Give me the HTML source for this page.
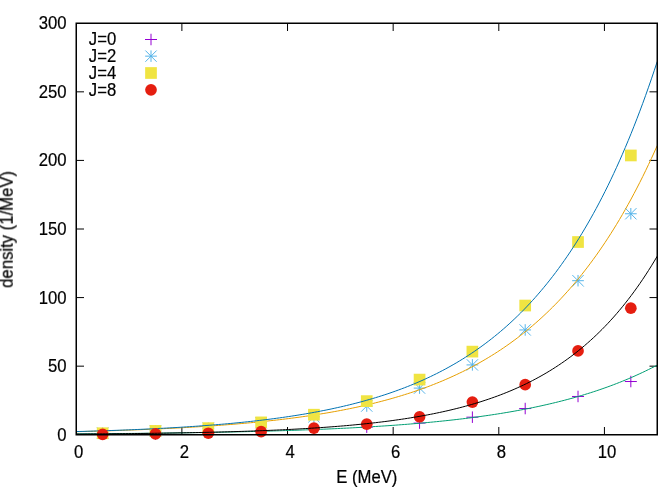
<!DOCTYPE html>
<html><head><meta charset="utf-8"><title>plot</title>
<style>html,body{margin:0;padding:0;background:#fff;overflow:hidden;width:670px;height:490px}svg{display:block}text{font-family:"Liberation Sans",sans-serif;font-size:16.7px;fill:#000;stroke:#000;stroke-width:0.2}</style></head>
<body>
<svg width="670" height="490" viewBox="0 0 670 490">
<rect width="670" height="490" fill="#fff"/>
<path d="M76.25 366.17h7.75M657.25 366.17h-7.75M76.25 297.58h7.75M657.25 297.58h-7.75M76.25 229.00h7.75M657.25 229.00h-7.75M76.25 160.42h7.75M657.25 160.42h-7.75M76.25 91.83h7.75M657.25 91.83h-7.75M181.89 434.75v-7.75M181.89 23.25v7.75M287.52 434.75v-7.75M287.52 23.25v7.75M393.16 434.75v-7.75M393.16 23.25v7.75M498.80 434.75v-7.75M498.80 23.25v7.75M604.43 434.75v-7.75M604.43 23.25v7.75" stroke="#000" stroke-width="1" fill="none"/>
<g opacity="0.999">
<text transform="translate(66.60,440.70) scale(1,1.05)" text-anchor="end">0</text>
<text transform="translate(66.60,372.12) scale(1,1.05)" text-anchor="end">50</text>
<text transform="translate(66.60,303.53) scale(1,1.05)" text-anchor="end">100</text>
<text transform="translate(66.60,234.95) scale(1,1.05)" text-anchor="end">150</text>
<text transform="translate(66.60,166.37) scale(1,1.05)" text-anchor="end">200</text>
<text transform="translate(66.60,97.78) scale(1,1.05)" text-anchor="end">250</text>
<text transform="translate(66.60,29.20) scale(1,1.05)" text-anchor="end">300</text>
<text transform="translate(78.75,457.70) scale(1,1.05)" text-anchor="middle">0</text>
<text transform="translate(184.39,457.70) scale(1,1.05)" text-anchor="middle">2</text>
<text transform="translate(290.02,457.70) scale(1,1.05)" text-anchor="middle">4</text>
<text transform="translate(395.66,457.70) scale(1,1.05)" text-anchor="middle">6</text>
<text transform="translate(501.30,457.70) scale(1,1.05)" text-anchor="middle">8</text>
<text transform="translate(606.93,457.70) scale(1,1.05)" text-anchor="middle">10</text>
<text transform="translate(366.80,482.60) scale(1,1.05)" text-anchor="middle">E (MeV)</text>
<text transform="translate(12.50,229.40) rotate(-90) scale(1,1.05)" text-anchor="middle">density (1/MeV)</text>
<text transform="translate(88.80,45.20) scale(1,1.05)" text-anchor="start">J=0</text>
<text transform="translate(88.80,61.85) scale(1,1.05)" text-anchor="start">J=2</text>
<text transform="translate(88.80,78.70) scale(1,1.05)" text-anchor="start">J=4</text>
<text transform="translate(88.80,95.50) scale(1,1.05)" text-anchor="start">J=8</text>
</g>
<path d="M145.00 39.50H157.00M151.00 33.75V45.25" stroke="#9400D3" stroke-width="1" fill="none"/>
<path d="M96.66 434.19H108.66M102.66 428.44V439.94" stroke="#9400D3" stroke-width="1" fill="none"/>
<path d="M149.48 433.91H161.48M155.48 428.16V439.66" stroke="#9400D3" stroke-width="1" fill="none"/>
<path d="M202.30 432.54H214.30M208.30 426.79V438.29" stroke="#9400D3" stroke-width="1" fill="none"/>
<path d="M255.11 430.90H267.11M261.11 425.15V436.65" stroke="#9400D3" stroke-width="1" fill="none"/>
<path d="M307.93 429.11H319.93M313.93 423.36V434.86" stroke="#9400D3" stroke-width="1" fill="none"/>
<path d="M360.75 427.19H372.75M366.75 421.44V432.94" stroke="#9400D3" stroke-width="1" fill="none"/>
<path d="M413.57 423.08H425.57M419.57 417.33V428.83" stroke="#9400D3" stroke-width="1" fill="none"/>
<path d="M466.39 417.18H478.39M472.39 411.43V422.93" stroke="#9400D3" stroke-width="1" fill="none"/>
<path d="M519.20 408.54H531.20M525.20 402.79V414.29" stroke="#9400D3" stroke-width="1" fill="none"/>
<path d="M572.02 396.47H584.02M578.02 390.72V402.22" stroke="#9400D3" stroke-width="1" fill="none"/>
<path d="M624.84 381.52H636.84M630.84 375.77V387.27" stroke="#9400D3" stroke-width="1" fill="none"/>
<polyline points="76.25,433.89 79.16,433.88 82.06,433.86 84.97,433.84 87.87,433.82 90.78,433.80 93.68,433.77 96.59,433.75 99.49,433.73 102.39,433.71 105.30,433.68 108.20,433.66 111.11,433.64 114.01,433.61 116.92,433.59 119.82,433.56 122.73,433.53 125.63,433.51 128.54,433.48 131.44,433.45 134.35,433.42 137.25,433.39 140.16,433.36 143.06,433.33 145.97,433.30 148.88,433.27 151.78,433.23 154.69,433.20 157.59,433.17 160.50,433.13 163.40,433.10 166.31,433.06 169.21,433.02 172.12,432.98 175.02,432.94 177.93,432.90 180.83,432.86 183.74,432.82 186.64,432.78 189.55,432.73 192.45,432.69 195.36,432.64 198.26,432.60 201.17,432.55 204.07,432.50 206.98,432.45 209.88,432.40 212.78,432.34 215.69,432.29 218.59,432.24 221.50,432.18 224.41,432.12 227.31,432.07 230.22,432.01 233.12,431.94 236.02,431.88 238.93,431.82 241.84,431.75 244.74,431.69 247.65,431.62 250.55,431.55 253.45,431.48 256.36,431.40 259.26,431.33 262.17,431.25 265.08,431.18 267.98,431.10 270.88,431.02 273.79,430.93 276.69,430.85 279.60,430.76 282.50,430.67 285.41,430.58 288.31,430.49 291.22,430.39 294.12,430.30 297.03,430.20 299.94,430.10 302.84,429.99 305.75,429.89 308.65,429.78 311.56,429.67 314.46,429.56 317.37,429.44 320.27,429.32 323.17,429.20 326.08,429.08 328.99,428.95 331.89,428.82 334.80,428.69 337.70,428.56 340.60,428.42 343.51,428.28 346.42,428.13 349.32,427.99 352.22,427.84 355.13,427.68 358.03,427.52 360.94,427.36 363.85,427.20 366.75,427.03 369.65,426.86 372.56,426.68 375.47,426.50 378.37,426.32 381.28,426.13 384.18,425.94 387.08,425.75 389.99,425.55 392.90,425.34 395.80,425.13 398.70,424.92 401.61,424.70 404.51,424.48 407.42,424.25 410.33,424.01 413.23,423.77 416.13,423.53 419.04,423.28 421.94,423.03 424.85,422.77 427.76,422.50 430.66,422.23 433.56,421.95 436.47,421.66 439.38,421.37 442.28,421.07 445.19,420.77 448.09,420.46 450.99,420.14 453.90,419.82 456.81,419.48 459.71,419.14 462.62,418.80 465.52,418.44 468.43,418.08 471.33,417.71 474.24,417.33 477.14,416.94 480.05,416.55 482.95,416.14 485.85,415.73 488.76,415.30 491.67,414.87 494.57,414.43 497.47,413.98 500.38,413.52 503.29,413.04 506.19,412.56 509.10,412.07 512.00,411.56 514.90,411.05 517.81,410.52 520.71,409.98 523.62,409.43 526.53,408.87 529.43,408.29 532.34,407.70 535.24,407.10 538.14,406.49 541.05,405.86 543.95,405.21 546.86,404.56 549.76,403.89 552.67,403.20 555.58,402.50 558.48,401.78 561.38,401.05 564.29,400.30 567.19,399.53 570.10,398.75 573.00,397.95 575.91,397.13 578.82,396.29 581.72,395.43 584.62,394.56 587.53,393.67 590.43,392.75 593.34,391.82 596.25,390.86 599.15,389.89 602.06,388.89 604.96,387.87 607.86,386.83 610.77,385.76 613.68,384.67 616.58,383.56 619.49,382.42 622.39,381.25 625.29,380.06 628.20,378.85 631.11,377.60 634.01,376.33 636.92,375.03 639.82,373.70 642.72,372.35 645.63,370.96 648.53,369.54 651.44,368.09 654.35,366.61 657.25,365.09" fill="none" stroke="#009E73" stroke-width="1.0" stroke-linejoin="round"/>
<path d="M145.15 56.15H156.85M151.00 50.40V61.90M145.35 50.50L156.65 61.80M145.35 61.80L156.65 50.50" stroke="#56B4E9" stroke-width="1" fill="none"/>
<path d="M96.81 433.09H108.51M102.66 427.34V438.84M97.01 427.44L108.31 438.74M97.01 438.74L108.31 427.44" stroke="#56B4E9" stroke-width="1" fill="none"/>
<path d="M149.63 430.90H161.33M155.48 425.15V436.65M149.83 425.25L161.13 436.55M149.83 436.55L161.13 425.25" stroke="#56B4E9" stroke-width="1" fill="none"/>
<path d="M202.45 428.29H214.15M208.30 422.54V434.04M202.65 422.64L213.95 433.94M202.65 433.94L213.95 422.64" stroke="#56B4E9" stroke-width="1" fill="none"/>
<path d="M255.26 422.73H266.96M261.11 416.98V428.48M255.46 417.08L266.76 428.38M255.46 428.38L266.76 417.08" stroke="#56B4E9" stroke-width="1" fill="none"/>
<path d="M308.08 416.77H319.78M313.93 411.02V422.52M308.28 411.12L319.58 422.42M308.28 422.42L319.58 411.12" stroke="#56B4E9" stroke-width="1" fill="none"/>
<path d="M360.90 406.07H372.60M366.75 400.32V411.82M361.10 400.42L372.40 411.72M361.10 411.72L372.40 400.42" stroke="#56B4E9" stroke-width="1" fill="none"/>
<path d="M413.72 388.10H425.42M419.57 382.35V393.85M413.92 382.45L425.22 393.75M413.92 393.75L425.22 382.45" stroke="#56B4E9" stroke-width="1" fill="none"/>
<path d="M466.54 364.92H478.24M472.39 359.17V370.67M466.74 359.27L478.04 370.57M466.74 370.57L478.04 359.27" stroke="#56B4E9" stroke-width="1" fill="none"/>
<path d="M519.35 329.94H531.05M525.20 324.19V335.69M519.55 324.29L530.85 335.59M519.55 335.59L530.85 324.29" stroke="#56B4E9" stroke-width="1" fill="none"/>
<path d="M572.17 280.70H583.87M578.02 274.95V286.45M572.37 275.05L583.67 286.35M572.37 286.35L583.67 275.05" stroke="#56B4E9" stroke-width="1" fill="none"/>
<path d="M624.99 213.76H636.69M630.84 208.01V219.51M625.19 208.11L636.49 219.41M625.19 219.41L636.49 208.11" stroke="#56B4E9" stroke-width="1" fill="none"/>
<polyline points="76.25,431.68 79.16,431.61 82.06,431.54 84.97,431.46 87.87,431.39 90.78,431.31 93.68,431.23 96.59,431.15 99.49,431.07 102.39,430.98 105.30,430.90 108.20,430.81 111.11,430.72 114.01,430.62 116.92,430.53 119.82,430.43 122.73,430.33 125.63,430.23 128.54,430.13 131.44,430.02 134.35,429.91 137.25,429.80 140.16,429.69 143.06,429.57 145.97,429.45 148.88,429.33 151.78,429.20 154.69,429.08 157.59,428.95 160.50,428.81 163.40,428.68 166.31,428.54 169.21,428.39 172.12,428.25 175.02,428.10 177.93,427.95 180.83,427.79 183.74,427.63 186.64,427.47 189.55,427.30 192.45,427.13 195.36,426.95 198.26,426.77 201.17,426.59 204.07,426.40 206.98,426.21 209.88,426.01 212.78,425.81 215.69,425.61 218.59,425.40 221.50,425.18 224.41,424.96 227.31,424.74 230.22,424.51 233.12,424.27 236.02,424.03 238.93,423.78 241.84,423.53 244.74,423.28 247.65,423.01 250.55,422.74 253.45,422.47 256.36,422.18 259.26,421.89 262.17,421.60 265.08,421.30 267.98,420.99 270.88,420.67 273.79,420.35 276.69,420.02 279.60,419.68 282.50,419.33 285.41,418.98 288.31,418.61 291.22,418.24 294.12,417.86 297.03,417.48 299.94,417.08 302.84,416.67 305.75,416.26 308.65,415.83 311.56,415.40 314.46,414.95 317.37,414.50 320.27,414.03 323.17,413.55 326.08,413.07 328.99,412.57 331.89,412.06 334.80,411.54 337.70,411.00 340.60,410.46 343.51,409.90 346.42,409.33 349.32,408.74 352.22,408.15 355.13,407.54 358.03,406.91 360.94,406.27 363.85,405.62 366.75,404.95 369.65,404.26 372.56,403.56 375.47,402.84 378.37,402.11 381.28,401.36 384.18,400.59 387.08,399.81 389.99,399.00 392.90,398.18 395.80,397.34 398.70,396.48 401.61,395.60 404.51,394.70 407.42,393.78 410.33,392.84 413.23,391.88 416.13,390.89 419.04,389.88 421.94,388.85 424.85,387.80 427.76,386.72 430.66,385.61 433.56,384.48 436.47,383.33 439.38,382.15 442.28,380.94 445.19,379.70 448.09,378.43 450.99,377.14 453.90,375.81 456.81,374.46 459.71,373.07 462.62,371.66 465.52,370.21 468.43,368.72 471.33,367.21 474.24,365.65 477.14,364.06 480.05,362.44 482.95,360.78 485.85,359.08 488.76,357.34 491.67,355.56 494.57,353.74 497.47,351.88 500.38,349.97 503.29,348.02 506.19,346.03 509.10,343.99 512.00,341.90 514.90,339.77 517.81,337.59 520.71,335.35 523.62,333.07 526.53,330.73 529.43,328.34 532.34,325.89 535.24,323.39 538.14,320.83 541.05,318.21 543.95,315.53 546.86,312.79 549.76,309.99 552.67,307.12 555.58,304.19 558.48,301.19 561.38,298.12 564.29,294.98 567.19,291.76 570.10,288.48 573.00,285.11 575.91,281.68 578.82,278.16 581.72,274.56 584.62,270.87 587.53,267.11 590.43,263.25 593.34,259.31 596.25,255.28 599.15,251.15 602.06,246.93 604.96,242.62 607.86,238.20 610.77,233.68 613.68,229.06 616.58,224.33 619.49,219.50 622.39,214.55 625.29,209.49 628.20,204.31 631.11,199.01 634.01,193.59 636.92,188.05 639.82,182.38 642.72,176.58 645.63,170.64 648.53,164.57 651.44,158.36 654.35,152.01 657.25,145.51" fill="none" stroke="#E69F00" stroke-width="1.0" stroke-linejoin="round"/>
<rect x="145.15" y="67.15" width="11.70" height="11.70" fill="#F0E442"/>
<rect x="96.81" y="427.38" width="11.70" height="11.70" fill="#F0E442"/>
<rect x="149.63" y="425.05" width="11.70" height="11.70" fill="#F0E442"/>
<rect x="202.45" y="422.30" width="11.70" height="11.70" fill="#F0E442"/>
<rect x="255.26" y="416.54" width="11.70" height="11.70" fill="#F0E442"/>
<rect x="308.08" y="408.86" width="11.70" height="11.70" fill="#F0E442"/>
<rect x="360.90" y="395.28" width="11.70" height="11.70" fill="#F0E442"/>
<rect x="413.72" y="373.75" width="11.70" height="11.70" fill="#F0E442"/>
<rect x="466.54" y="345.76" width="11.70" height="11.70" fill="#F0E442"/>
<rect x="519.35" y="299.68" width="11.70" height="11.70" fill="#F0E442"/>
<rect x="572.17" y="236.17" width="11.70" height="11.70" fill="#F0E442"/>
<rect x="624.99" y="149.61" width="11.70" height="11.70" fill="#F0E442"/>
<polyline points="76.25,431.56 79.16,431.49 82.06,431.41 84.97,431.33 87.87,431.24 90.78,431.16 93.68,431.07 96.59,430.98 99.49,430.89 102.39,430.80 105.30,430.71 108.20,430.61 111.11,430.51 114.01,430.41 116.92,430.30 119.82,430.19 122.73,430.08 125.63,429.97 128.54,429.86 131.44,429.74 134.35,429.62 137.25,429.49 140.16,429.37 143.06,429.24 145.97,429.10 148.88,428.97 151.78,428.83 154.69,428.69 157.59,428.54 160.50,428.39 163.40,428.24 166.31,428.08 169.21,427.92 172.12,427.75 175.02,427.59 177.93,427.41 180.83,427.24 183.74,427.06 186.64,426.87 189.55,426.68 192.45,426.49 195.36,426.29 198.26,426.08 201.17,425.87 204.07,425.66 206.98,425.44 209.88,425.22 212.78,424.99 215.69,424.75 218.59,424.51 221.50,424.26 224.41,424.01 227.31,423.75 230.22,423.49 233.12,423.22 236.02,422.94 238.93,422.65 241.84,422.36 244.74,422.06 247.65,421.76 250.55,421.44 253.45,421.12 256.36,420.79 259.26,420.46 262.17,420.11 265.08,419.76 267.98,419.40 270.88,419.03 273.79,418.65 276.69,418.26 279.60,417.87 282.50,417.46 285.41,417.04 288.31,416.62 291.22,416.18 294.12,415.73 297.03,415.27 299.94,414.80 302.84,414.32 305.75,413.83 308.65,413.33 311.56,412.81 314.46,412.28 317.37,411.74 320.27,411.18 323.17,410.62 326.08,410.04 328.99,409.44 331.89,408.83 334.80,408.20 337.70,407.56 340.60,406.91 343.51,406.24 346.42,405.55 349.32,404.85 352.22,404.13 355.13,403.39 358.03,402.63 360.94,401.86 363.85,401.07 366.75,400.25 369.65,399.42 372.56,398.57 375.47,397.70 378.37,396.81 381.28,395.89 384.18,394.96 387.08,394.00 389.99,393.02 392.90,392.01 395.80,390.98 398.70,389.92 401.61,388.84 404.51,387.74 407.42,386.60 410.33,385.44 413.23,384.26 416.13,383.04 419.04,381.79 421.94,380.52 424.85,379.21 427.76,377.87 430.66,376.50 433.56,375.10 436.47,373.66 439.38,372.19 442.28,370.68 445.19,369.13 448.09,367.55 450.99,365.93 453.90,364.27 456.81,362.58 459.71,360.84 462.62,359.06 465.52,357.23 468.43,355.36 471.33,353.45 474.24,351.49 477.14,349.48 480.05,347.43 482.95,345.32 485.85,343.17 488.76,340.96 491.67,338.70 494.57,336.39 497.47,334.02 500.38,331.59 503.29,329.10 506.19,326.55 509.10,323.95 512.00,321.28 514.90,318.54 517.81,315.74 520.71,312.87 523.62,309.94 526.53,306.93 529.43,303.85 532.34,300.69 535.24,297.46 538.14,294.15 541.05,290.76 543.95,287.29 546.86,283.74 549.76,280.10 552.67,276.37 555.58,272.56 558.48,268.65 561.38,264.64 564.29,260.54 567.19,256.35 570.10,252.05 573.00,247.64 575.91,243.13 578.82,238.52 581.72,233.79 584.62,228.94 587.53,223.98 590.43,218.90 593.34,213.70 596.25,208.37 599.15,202.92 602.06,197.33 604.96,191.61 607.86,185.75 610.77,179.75 613.68,173.60 616.58,167.31 619.49,160.86 622.39,154.26 625.29,147.50 628.20,140.58 631.11,133.49 634.01,126.23 636.92,118.79 639.82,111.18 642.72,103.38 645.63,95.39 648.53,87.21 651.44,78.84 654.35,70.26 657.25,61.47" fill="none" stroke="#0072B2" stroke-width="1.0" stroke-linejoin="round"/>
<circle cx="151.00" cy="89.80" r="5.85" fill="#E51E10"/>
<circle cx="102.66" cy="434.32" r="5.85" fill="#E51E10"/>
<circle cx="155.48" cy="433.91" r="5.85" fill="#E51E10"/>
<circle cx="208.30" cy="433.23" r="5.85" fill="#E51E10"/>
<circle cx="261.11" cy="431.72" r="5.85" fill="#E51E10"/>
<circle cx="313.93" cy="428.15" r="5.85" fill="#E51E10"/>
<circle cx="366.75" cy="424.17" r="5.85" fill="#E51E10"/>
<circle cx="419.57" cy="416.77" r="5.85" fill="#E51E10"/>
<circle cx="472.39" cy="402.09" r="5.85" fill="#E51E10"/>
<circle cx="525.20" cy="384.67" r="5.85" fill="#E51E10"/>
<circle cx="578.02" cy="350.93" r="5.85" fill="#E51E10"/>
<circle cx="630.84" cy="308.13" r="5.85" fill="#E51E10"/>
<polyline points="76.25,434.06 79.16,434.04 82.06,434.02 84.97,434.00 87.87,433.98 90.78,433.96 93.68,433.93 96.59,433.91 99.49,433.89 102.39,433.86 105.30,433.84 108.20,433.81 111.11,433.79 114.01,433.76 116.92,433.73 119.82,433.70 122.73,433.67 125.63,433.64 128.54,433.61 131.44,433.58 134.35,433.55 137.25,433.51 140.16,433.48 143.06,433.44 145.97,433.40 148.88,433.37 151.78,433.33 154.69,433.29 157.59,433.25 160.50,433.20 163.40,433.16 166.31,433.12 169.21,433.07 172.12,433.02 175.02,432.97 177.93,432.92 180.83,432.87 183.74,432.82 186.64,432.77 189.55,432.71 192.45,432.65 195.36,432.59 198.26,432.53 201.17,432.47 204.07,432.41 206.98,432.34 209.88,432.27 212.78,432.20 215.69,432.13 218.59,432.06 221.50,431.98 224.41,431.90 227.31,431.82 230.22,431.74 233.12,431.65 236.02,431.57 238.93,431.48 241.84,431.39 244.74,431.29 247.65,431.19 250.55,431.09 253.45,430.99 256.36,430.88 259.26,430.78 262.17,430.66 265.08,430.55 267.98,430.43 270.88,430.31 273.79,430.18 276.69,430.05 279.60,429.92 282.50,429.79 285.41,429.65 288.31,429.50 291.22,429.36 294.12,429.20 297.03,429.05 299.94,428.89 302.84,428.72 305.75,428.55 308.65,428.38 311.56,428.20 314.46,428.01 317.37,427.82 320.27,427.63 323.17,427.43 326.08,427.22 328.99,427.01 331.89,426.79 334.80,426.57 337.70,426.34 340.60,426.10 343.51,425.86 346.42,425.61 349.32,425.35 352.22,425.08 355.13,424.81 358.03,424.53 360.94,424.24 363.85,423.95 366.75,423.64 369.65,423.33 372.56,423.01 375.47,422.68 378.37,422.34 381.28,421.99 384.18,421.63 387.08,421.26 389.99,420.88 392.90,420.49 395.80,420.09 398.70,419.67 401.61,419.25 404.51,418.81 407.42,418.36 410.33,417.90 413.23,417.43 416.13,416.94 419.04,416.44 421.94,415.92 424.85,415.39 427.76,414.85 430.66,414.29 433.56,413.71 436.47,413.12 439.38,412.51 442.28,411.88 445.19,411.24 448.09,410.58 450.99,409.90 453.90,409.20 456.81,408.48 459.71,407.74 462.62,406.98 465.52,406.19 468.43,405.39 471.33,404.56 474.24,403.71 477.14,402.84 480.05,401.94 482.95,401.01 485.85,400.06 488.76,399.09 491.67,398.08 494.57,397.05 497.47,395.99 500.38,394.90 503.29,393.77 506.19,392.62 509.10,391.43 512.00,390.21 514.90,388.96 517.81,387.67 520.71,386.34 523.62,384.98 526.53,383.58 529.43,382.14 532.34,380.66 535.24,379.13 538.14,377.57 541.05,375.96 543.95,374.30 546.86,372.60 549.76,370.85 552.67,369.05 555.58,367.20 558.48,365.29 561.38,363.34 564.29,361.33 567.19,359.26 570.10,357.13 573.00,354.95 575.91,352.70 578.82,350.39 581.72,348.01 584.62,345.57 587.53,343.06 590.43,340.47 593.34,337.82 596.25,335.09 599.15,332.28 602.06,329.40 604.96,326.43 607.86,323.38 610.77,320.24 613.68,317.02 616.58,313.70 619.49,310.29 622.39,306.79 625.29,303.18 628.20,299.48 631.11,295.67 634.01,291.75 636.92,287.72 639.82,283.58 642.72,279.32 645.63,274.95 648.53,270.44 651.44,265.82 654.35,261.06 657.25,256.17" fill="none" stroke="#000000" stroke-width="1.0" stroke-linejoin="round"/>
<rect x="76.25" y="23.25" width="581.00" height="411.50" fill="none" stroke="#000" stroke-width="1.5"/>
</svg></body></html>
